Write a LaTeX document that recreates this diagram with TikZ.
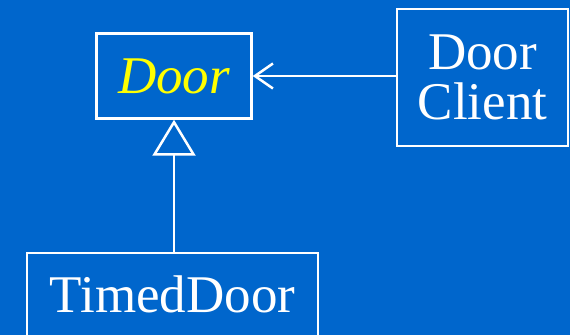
\documentclass[tikz,border=0pt]{standalone}
\usepackage{fontspec}
\setmainfont{Liberation Serif}
\newfontfamily\slidefont{Liberation Serif}
\usetikzlibrary{arrows.meta}

\definecolor{slideblue}{RGB}{0,102,204}
\definecolor{slideyellow}{RGB}{255,255,0}

\begin{document}
\begin{tikzpicture}[x=1pt, y=1pt,
    every node/.style={draw=white, line width=2.5pt, text=white, inner sep=0pt,
        font=\slidefont\fontsize{53}{50}\selectfont, align=center},
    link/.style={draw=white, line width=2.5pt}]

\clip (0,0) rectangle (570,335);
\fill[slideblue] (0,0) rectangle (570,335);

\node[minimum width=155pt, minimum height=85pt, text=slideyellow, font=\slidefont\itshape\fontsize{53}{50}\selectfont] (door) at (174,259) {Door};
\node[minimum width=171pt, minimum height=137pt] (client) at (482.5,257.5) {Door\\Client};
\node[minimum width=291pt, minimum height=130pt, text depth=58.5pt, text height=46.5pt] (timed) at (172.5,17) {TimedDoor};

\draw[link, -{Straight Barb[length=18pt, width=25pt, line width=2.5pt]}] (client.west |- door.east) -- (door.east);
\draw[link, -{Triangle[open, length=36pt, width=43pt, line width=2.5pt]}] (timed.north -| door.south) -- (door.south);

\end{tikzpicture}
\end{document}
